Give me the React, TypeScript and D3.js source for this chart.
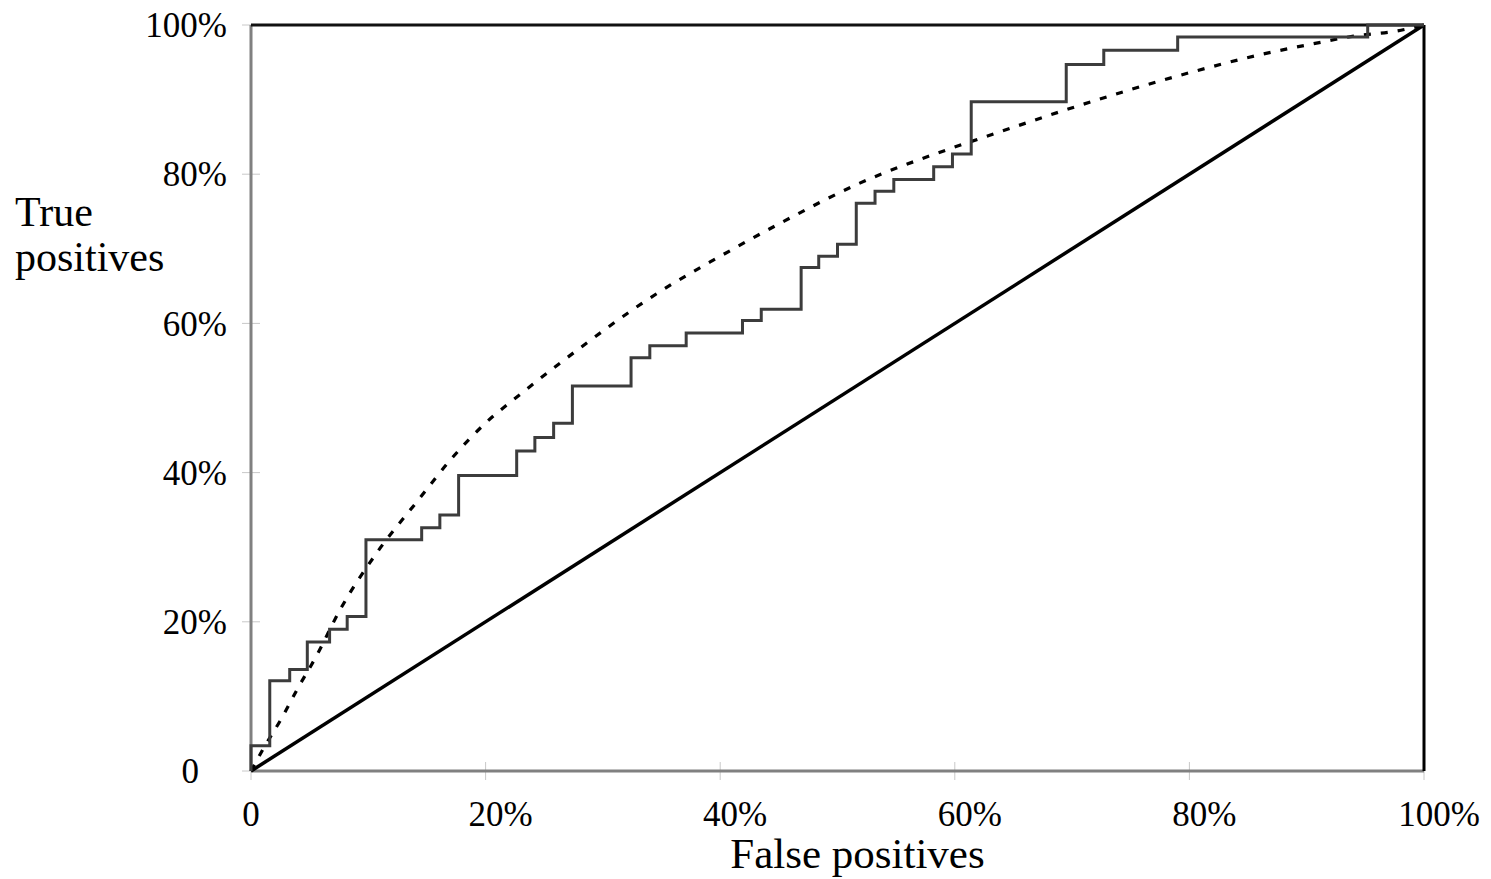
import React from "react";
import * as d3 from "d3";

// ROC step curve: false-positive rate where each step occurs, true-positive level after the step (%)
const rocFpr = [0, 0, 1.6, 3.3, 4.8, 6.7, 8.2, 9.8, 14.55, 16.1, 17.7, 22.65, 24.2, 25.8, 27.4, 32.4, 34.0, 37.1, 41.9, 43.5, 46.9, 48.4, 50.0, 51.6, 53.2, 54.8, 58.2, 59.8, 61.4, 69.5, 72.7, 79.0, 95.2, 100];
const rocTpr = [0, 3.4, 12.1, 13.6, 17.3, 19.0, 20.7, 31.0, 32.6, 34.3, 39.6, 42.9, 44.7, 46.6, 51.6, 55.4, 57.0, 58.7, 60.4, 61.9, 67.5, 69.0, 70.6, 76.1, 77.7, 79.3, 81.0, 82.7, 89.7, 94.7, 96.6, 98.4, 100, 100];

// Smooth fitted curve (dashed)
const fitFpr = [0, 1.05, 2.62, 4.03, 5.54, 7.59, 10.7, 14.3, 17.0, 19.9, 23.2, 28.9, 32.5, 34.9, 40.0, 45.2, 51.9, 59.2, 63.7, 69.8, 80.7, 85.7, 90.6, 94.0, 97.7, 100];
const fitTpr = [0, 3.0, 7.1, 11.2, 15.3, 21.6, 29.2, 36.4, 41.7, 46.5, 50.8, 57.7, 61.8, 64.3, 69.0, 73.5, 78.8, 83.2, 85.6, 88.8, 93.9, 95.9, 97.5, 98.5, 99.2, 100];

// Chance diagonal
const diagFpr = [0, 100];
const diagTpr = [0, 100];

const tickValues = [0, 20, 40, 60, 80, 100];
const tickLabels = ["0", "20%", "40%", "60%", "80%", "100%"];

const xTitle = "False positives";
const yTitleLines = ["True", "positives"];

export default function App() {
  const W = 1491;
  const H = 879;
  const left = 251;
  const right = 1424;
  const top = 25;
  const bottom = 771;

  const x = d3.scaleLinear().domain([0, 100]).range([left, right]);
  const y = d3.scaleLinear().domain([0, 100]).range([bottom, top]);

  const roc = rocFpr.map((v, i) => [v, rocTpr[i]] as [number, number]);
  const fit = fitFpr.map((v, i) => [v, fitTpr[i]] as [number, number]);
  const diag = diagFpr.map((v, i) => [v, diagTpr[i]] as [number, number]);

  const stepLine = d3
    .line<[number, number]>()
    .x((d) => x(d[0]))
    .y((d) => y(d[1]))
    .curve(d3.curveStepAfter);
  const smoothLine = d3
    .line<[number, number]>()
    .x((d) => x(d[0]))
    .y((d) => y(d[1]))
    .curve(d3.curveMonotoneX);
  const straight = d3
    .line<[number, number]>()
    .x((d) => x(d[0]))
    .y((d) => y(d[1]));

  const font = "'Liberation Serif', 'Times New Roman', serif";

  return (
    <svg
      width={W}
      height={H}
      style={{ position: "absolute", left: 0, top: 0, background: "#fff" }}
      fontFamily={font}
    >
      <rect x={0} y={0} width={W} height={H} fill="#fff" />
      {/* tick marks */}
      {tickValues.map((t) => (
        <line key={"yt" + t} x1={left - 9} x2={left + 9} y1={y(t)} y2={y(t)} stroke="#c8c8c8" strokeWidth={1} />
      ))}
      {tickValues.map((t) => (
        <line key={"xt" + t} x1={x(t)} x2={x(t)} y1={bottom - 9} y2={bottom + 9} stroke="#c8c8c8" strokeWidth={1} />
      ))}
      {/* axes */}
      <line x1={left} x2={left} y1={top} y2={bottom} stroke="#808080" strokeWidth={3} />
      <line x1={left} x2={right} y1={bottom} y2={bottom} stroke="#808080" strokeWidth={3} />
      {/* top and right frame */}
      <line x1={left} x2={right} y1={y(100)} y2={y(100)} stroke="#111" strokeWidth={3} />
      <line x1={x(100)} x2={x(100)} y1={y(100)} y2={y(0)} stroke="#000" strokeWidth={3} />
      {/* diagonal */}
      <path d={straight(diag) || ""} fill="none" stroke="#000" strokeWidth={3.5} />
      {/* fitted dashed curve */}
      <path d={smoothLine(fit) || ""} fill="none" stroke="#000" strokeWidth={3.2} strokeDasharray="7 10" />
      {/* ROC step */}
      <path d={stepLine(roc) || ""} fill="none" stroke="#3c3c3c" strokeWidth={3} />
      {/* y tick labels */}
      {tickValues.map((t, i) => (
        <text
          key={"yl" + t}
          x={t === 0 ? left - 52 : left - 24}
          y={y(t)}
          dy="0.35em"
          textAnchor="end"
          fontSize={35}
          fill="#000"
        >
          {tickLabels[i]}
        </text>
      ))}
      {/* x tick labels */}
      {tickValues.map((t, i) => (
        <text
          key={"xl" + t}
          x={t === 0 ? x(t) : x(t) + 15}
          y={bottom + 55}
          textAnchor="middle"
          fontSize={35}
          fill="#000"
        >
          {tickLabels[i]}
        </text>
      ))}
      {/* axis titles */}
      <text x={(left + right) / 2 + 20} y={868} textAnchor="middle" fontSize={43} fill="#000">
        {xTitle}
      </text>
      {yTitleLines.map((l, i) => (
        <text key={l} x={15} y={226 + i * 45} fontSize={42} fill="#000">
          {l}
        </text>
      ))}
    </svg>
  );
}
